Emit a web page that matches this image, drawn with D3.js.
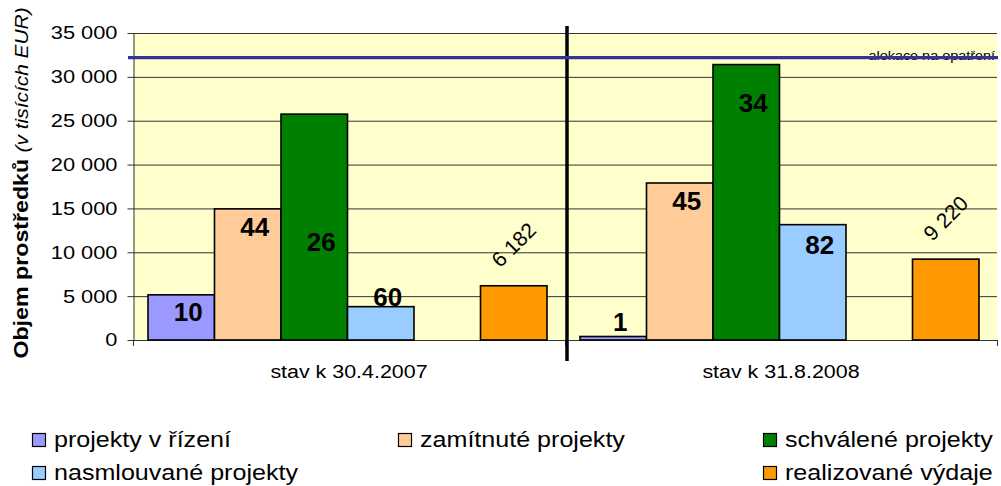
<!DOCTYPE html>
<html>
<head>
<meta charset="utf-8">
<script src="https://d3js.org/d3.v7.min.js"></script>
<style>
  body { margin: 0; background: #fff; }
  text { font-family: Arial, "Liberation Sans", sans-serif; }
</style>
</head>
<body>
<svg id="main_graph" width="1001" height="486"></svg>
<script>

// data
var categories = ["stav k 30.4.2007", "stav k 31.8.2008"];
var seriesNames = ["projekty v řízení", "zamítnuté projekty", "schválené projekty",
                   "nasmlouvané projekty", "realizované výdaje"];
var seriesColors = ["#9999FF", "#FFCC99", "#008000", "#99CCFF", "#FF9900"];
var slotOf = [0, 1, 2, 3, 5];   // 5th slot is empty in the original
var values2007 = [5150, 14950, 25750, 3800, 6182];
var values2008 = [400, 17900, 31400, 13150, 9220];
var counts2007 = ["10", "44", "26", "60"];
var counts2008 = ["1", "45", "34", "82"];
// where the project counts sit (in axis units), they were placed by hand
var countAt2007 = [2200, 11900, 10200, 3900];
var countAt2008 = [1050, 14800, 25950, 9800];
var allocation = 32200;
var allocationLabel = "alokace na opatření";
var yTicks = [0, 5000, 10000, 15000, 20000, 25000, 30000, 35000];

var svg = d3.select("svg");
var margin = {top: 33, right: 4, bottom: 146, left: 133},
    width = 1001 - margin.left - margin.right,
    height = 486 - margin.top - margin.bottom,
    g = svg.append("g").attr("transform", "translate(" + margin.left + "," + margin.top + ")");

var x0 = d3.scaleBand().domain(categories).range([0, width]);
var x1 = d3.scaleBand().domain(d3.range(6)).range([15, x0.bandwidth() - 18]);
var y  = d3.scaleLinear().domain([0, 35000]).range([height, 0]);

var fmt = function(v) { return d3.format(",")(v).replace(/,/g, " "); };

// the original text is drawn a bit wider than the font itself
function stretch(sel, k) {
  sel.each(function() {
    var len = this.getComputedTextLength();
    d3.select(this).attr("textLength", len * k).attr("lengthAdjust", "spacingAndGlyphs");
  });
}

g.append("rect").attr("width", width).attr("height", height).attr("fill", "#FFFFCC");

// gridlines
g.append("g")
    .selectAll("line").data(yTicks.slice(1)).enter().append("line")
    .attr("x1", 0).attr("x2", width)
    .attr("y1", function(d) { return y(d) + 0.5; })
    .attr("y2", function(d) { return y(d) + 0.5; })
    .attr("stroke", "#333").attr("stroke-width", 1);

// y axis
var yAxis = g.append("g")
    .attr("transform", "translate(0.5,0)")
    .call(d3.axisLeft(y).tickValues(yTicks).tickFormat(fmt).tickSize(6).tickSizeOuter(0));
yAxis.select(".domain").attr("stroke", "#333");
yAxis.selectAll(".tick line").attr("stroke", "#333");
yAxis.selectAll("text").attr("font-size", "18.5px").attr("fill", "#000")
    .attr("font-family", "Arial, 'Liberation Sans', sans-serif").attr("x", -16);
stretch(yAxis.selectAll("text"), 1.18);

// x axis
g.append("line").attr("x1", 0).attr("x2", width)
    .attr("y1", height + 0.5).attr("y2", height + 0.5).attr("stroke", "#333");
g.selectAll(".xtick").data([0, 1, 2]).enter().append("line")
    .attr("x1", function(d) { return d * x0.bandwidth() + 0.5; })
    .attr("x2", function(d) { return d * x0.bandwidth() + 0.5; })
    .attr("y1", height).attr("y2", height + 6).attr("stroke", "#333");

var cats = g.selectAll(".catlabel").data(categories).enter().append("text")
    .attr("x", function(d) { return x0(d) + x0.bandwidth() / 2; })
    .attr("y", height + 38)
    .attr("text-anchor", "middle").attr("font-size", "18px")
    .text(function(d) { return d; });
stretch(cats, 1.19);

// bars
var groups = [
  {cat: categories[0], vals: values2007, counts: counts2007, at: countAt2007},
  {cat: categories[1], vals: values2008, counts: counts2008, at: countAt2008}
];

groups.forEach(function(grp) {
  var gg = g.append("g").attr("transform", "translate(" + x0(grp.cat) + ",0)");
  gg.selectAll("rect").data(grp.vals).enter().append("rect")
      .attr("x", function(d, i) { return x1(slotOf[i]); })
      .attr("y", function(d) { return y(d); })
      .attr("width", x1.bandwidth())
      .attr("height", function(d) { return height - y(d); })
      .attr("fill", function(d, i) { return seriesColors[i]; })
      .attr("stroke", "#000").attr("stroke-width", 1.6);

  gg.selectAll(".count").data(grp.counts).enter().append("text")
      .attr("x", function(d, i) { return x1(slotOf[i]) + x1.bandwidth() / 2 + 7; })
      .attr("y", function(d, i) { return y(grp.at[i]); })
      .attr("text-anchor", "middle").attr("font-size", "26px").attr("font-weight", "bold")
      .text(function(d) { return d; });

  // rotated total above the last bar
  var last = grp.vals[4];
  var cx = x1(slotOf[4]) + x1.bandwidth() / 2, cy = y(last) - 41;
  gg.append("text")
      .attr("transform", "translate(" + cx + "," + cy + ") rotate(-45)")
      .attr("text-anchor", "middle").attr("dy", "0.35em").attr("font-size", "21px")
      .text(fmt(last));
});

// vertical divider
g.append("line")
    .attr("x1", x0.bandwidth() + 2).attr("x2", x0.bandwidth() + 2)
    .attr("y1", -7).attr("y2", height + 21)
    .attr("stroke", "#000").attr("stroke-width", 3.5);

// allocation line
var alloc = g.append("text")
    .attr("x", width - 2).attr("y", y(allocation) + 2)
    .attr("text-anchor", "end").attr("font-size", "12px").attr("fill", "#000")
    .text(allocationLabel);
stretch(alloc, 1.2);
g.append("line")
    .attr("x1", -5).attr("x2", width + 1)
    .attr("y1", y(allocation)).attr("y2", y(allocation))
    .attr("stroke", "#333399").attr("stroke-width", 3.3);

// y axis title
var title = svg.append("text")
    .attr("transform", "translate(28,183) rotate(-90)")
    .attr("text-anchor", "middle");
title.append("tspan").attr("font-size", "20px").attr("font-weight", "bold").text("Objem prostředků ");
title.append("tspan").attr("font-size", "18px").attr("font-style", "italic").text("(v tisících EUR)");
stretch(title.selectAll("tspan"), 1.16);

// legend
var legendX = [32, 398, 763];
var legendPos = [[0, 0], [1, 0], [2, 0], [0, 1], [2, 1]];
var legend = svg.append("g").selectAll("g").data(seriesNames).enter().append("g")
    .attr("transform", function(d, i) {
      return "translate(" + legendX[legendPos[i][0]] + "," + (440 + legendPos[i][1] * 33) + ")";
    });
legend.append("rect")
    .attr("x", 0.5).attr("y", -6.5).attr("width", 13).attr("height", 13)
    .attr("fill", function(d, i) { return seriesColors[i]; })
    .attr("stroke", "#000").attr("stroke-width", 1.2);
var legText = legend.append("text")
    .attr("x", 22).attr("y", 0).attr("dy", "0.33em").attr("font-size", "22px")
    .text(function(d) { return d; });
stretch(legText, 1.14);

</script>
</body>
</html>
